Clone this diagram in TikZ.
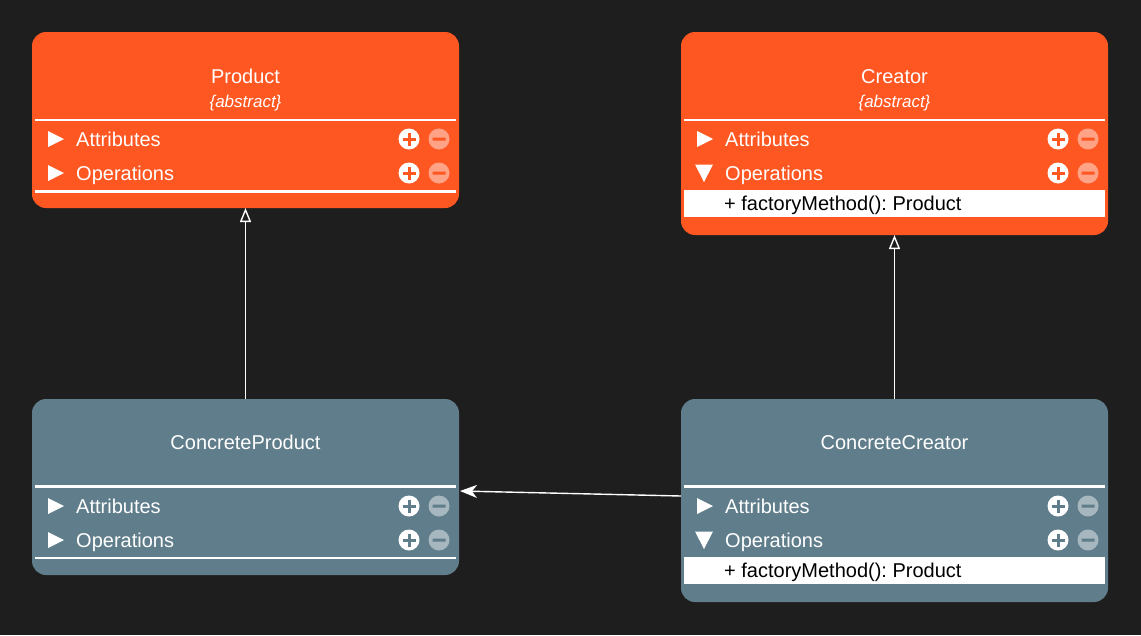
\documentclass[tikz,border=0pt]{standalone}
\usepackage{fontspec}
\setmainfont{Liberation Sans}
\usetikzlibrary{arrows.meta,calc}
\definecolor{bg}{RGB}{30,30,30}
\definecolor{orng}{RGB}{255,87,34}
\definecolor{slate}{RGB}{96,125,139}
\frenchspacing
\newcommand\uRow[6]{% #1 name, #2 left x, #3 center y, #4 label, #5 colour, #6 1 if open
  \ifnum#6=1
    \fill[white] ($(#2,#3)+(14,-8.5)$) -- ++(18,0) -- ++(-9,17.5) -- cycle;
  \else
    \fill[white] ($(#2,#3)+(16,-8)$) -- ++(0,16) -- ++(16,-8) -- cycle;
  \fi
  \node[rowtxt] (#1) at ($(#2,#3)+(44,7)$) {#4};
  \fill[white] ($(#2,#3)+(377,0)$) circle[radius=10.5];
  \draw[#5, line width=3pt] ($(#2,#3)+(370.5,0)$) -- ++(13,0) ($(#2,#3)+(377,-6.5)$) -- ++(0,13);
  \begin{scope}[opacity=0.45, transparency group]
    \fill[white] ($(#2,#3)+(407,0)$) circle[radius=10.5];
    \draw[#5, line width=3pt] ($(#2,#3)+(400.5,0)$) -- ++(13,0);
  \end{scope}
}
\begin{document}
\begin{tikzpicture}[x=1pt,y=-1pt,
  box/.style={rounded corners=14pt, minimum width=427pt, anchor=north west, inner sep=0pt, draw=none, outer sep=0pt},
  ttl/.style={text=white, font=\fontsize{20}{24}\selectfont, anchor=base, inner sep=0pt},
  abst/.style={text=white, font=\fontsize{17}{20}\selectfont\itshape, anchor=base, inner sep=0pt},
  rowtxt/.style={text=white, font=\fontsize{20}{24}\selectfont, anchor=base west, inner sep=0pt},
  mtxt/.style={text=black, font=\fontsize{20}{24}\selectfont, anchor=base west, inner sep=0pt},
  sep/.style={white, line width=2.6pt},
  inh/.style={white, line width=1.4pt, -{Triangle[open, fill=bg, length=14pt, width=11pt]}},
  assoc/.style={white, line width=1.4pt, -{Stealth[length=17pt, width=13pt, inset=5pt]}}
]
\fill[bg] (0,0) rectangle (1141,635);
\useasboundingbox (0,0) rectangle (1141,635);

% Product
\node[box, fill=orng, minimum height=176pt] (product) at (32,32) {};
\node[ttl] (productT) at (245.5,83) {Product};
\node[abst] (productA) at (245.5,107) {\{abstract\}};
\draw[sep] (35,120) -- (456,120);
\uRow{productAt}{32}{139}{Attributes}{orng}{0}
\uRow{productOp}{32}{173}{Operations}{orng}{0}
\draw[sep] (35,191.5) -- (456,191.5);

% Creator
\node[box, fill=orng, minimum height=203pt] (creator) at (681,32) {};
\node[ttl] (creatorT) at (894.5,83) {Creator};
\node[abst] (creatorA) at (894.5,107) {\{abstract\}};
\draw[sep] (684,120) -- (1105,120);
\uRow{creatorAt}{681}{139}{Attributes}{orng}{0}
\uRow{creatorOp}{681}{173}{Operations}{orng}{1}
\fill[white] (684,190) rectangle (1105,216.5);
\node[mtxt] (creatorM) at (724,210.5) {+ factoryMethod(): Product};

% ConcreteProduct
\node[box, fill=slate, minimum height=176pt] (cproduct) at (32,399) {};
\node[ttl] (cproductT) at (245.5,449.5) {ConcreteProduct};
\draw[sep] (35,486.5) -- (456,486.5);
\uRow{cproductAt}{32}{506}{Attributes}{slate}{0}
\uRow{cproductOp}{32}{540}{Operations}{slate}{0}
\draw[sep] (35,558) -- (456,558);

% ConcreteCreator
\node[box, fill=slate, minimum height=203pt] (ccreator) at (681,399) {};
\node[ttl] (ccreatorT) at (894.5,449.5) {ConcreteCreator};
\draw[sep] (684,486.5) -- (1105,486.5);
\uRow{ccreatorAt}{681}{506}{Attributes}{slate}{0}
\uRow{ccreatorOp}{681}{540}{Operations}{slate}{1}
\fill[white] (684,557) rectangle (1105,583.5);
\node[mtxt] (ccreatorM) at (724,577.5) {+ factoryMethod(): Product};

% connectors
\draw[inh] (cproduct.north) -- (product.south);
\draw[inh] (ccreator.north) -- (creator.south);
\draw[assoc] ($(ccreator.north west)+(0,97)$) -- ($(cproduct.north east)+(1,92)$);
\end{tikzpicture}
\end{document}
